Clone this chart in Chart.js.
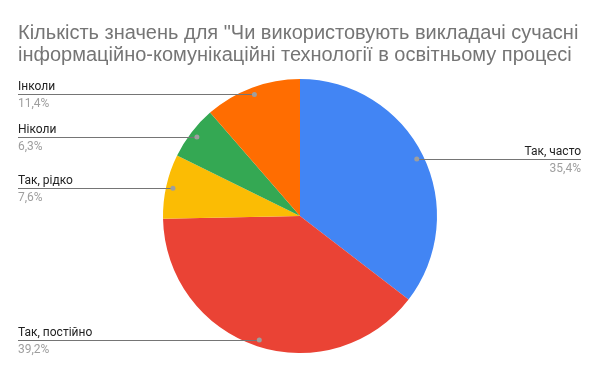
<!DOCTYPE html>
<html>
<head>
<meta charset="utf-8">
<script src="https://cdn.jsdelivr.net/npm/chart.js@4"></script>
<style>
  html, body { margin: 0; padding: 0; background: #fff; }
  #wrap { width: 600px; height: 371px; position: relative; }
</style>
</head>
<body>
<div id="wrap"><canvas id="myViz" width="600" height="371"></canvas></div>
<script>
const titleLines = [
    'Кількість значень для "Чи використовують викладачі сучасні',
    'інформаційно-комунікаційні технології в освітньому процесі',
];
const labels = ['Так, часто', 'Так, постійно', 'Так, рідко', 'Ніколи', 'Інколи'];
const counts = [28, 31, 6, 5, 9];
const colors = ['#4285F4', '#EA4335', '#FBBC04', '#34A853', '#FF6D01'];

const fmtPct = (v, total) => (v / total * 100).toFixed(1).replace('.', ',') + '%';

// title + leader-line labels, drawn the way Sheets does it
const sheetsLabels = {
    id: 'sheetsLabels',
    afterDraw(chart) {
        const ctx = chart.ctx;
        const total = counts.reduce((a, b) => a + b, 0);
        ctx.save();

        ctx.font = '20px "Liberation Sans"';
        ctx.fillStyle = '#757575';
        ctx.textAlign = 'left';
        ctx.textBaseline = 'alphabetic';
        ctx.fillText(titleLines[0], 18, 39);
        ctx.fillText(titleLines[1], 18, 61);

        const meta = chart.getDatasetMeta(0);
        meta.data.forEach((arc, i) => {
            const mid = (arc.startAngle + arc.endAngle) / 2;
            const r = arc.outerRadius * 0.95;
            const px = arc.x + Math.cos(mid) * r;
            const py = arc.y + Math.sin(mid) * r;
            const right = px > arc.x;
            const edge = right ? 581 : 18;

            ctx.strokeStyle = '#757575';
            ctx.lineWidth = 1;
            ctx.beginPath();
            ctx.moveTo(edge, Math.round(py) + 0.5);
            ctx.lineTo(px, Math.round(py) + 0.5);
            ctx.stroke();

            ctx.fillStyle = '#9e9e9e';
            ctx.beginPath();
            ctx.arc(px, py + 0.5, 2.5, 0, Math.PI * 2);
            ctx.fill();

            ctx.textAlign = right ? 'right' : 'left';
            ctx.font = '12px Roboto';
            ctx.fillStyle = '#222222';
            ctx.fillText(labels[i], edge, Math.round(py) - 4);
            ctx.fillStyle = '#9e9e9e';
            ctx.fillText(fmtPct(counts[i], total), edge, Math.round(py) + 13);
        });
        ctx.restore();
    },
};

const config = {
    type: 'pie',
    plugins: [sheetsLabels],
    data: {
        labels: labels,
        datasets: [{
            data: counts,
            backgroundColor: colors,
            borderWidth: 0,
        }],
    },
    options: {
        responsive: false,
        animation: false,
        layout: {
            padding: { top: 79, bottom: 18, left: 163, right: 163 },
        },
        plugins: {
            legend: { display: false },
            title: { display: false },
            tooltip: { enabled: false },
        },
    },
};

const ctx = document.getElementById('myViz').getContext('2d');
new Chart(ctx, config);
</script>
</body>
</html>
